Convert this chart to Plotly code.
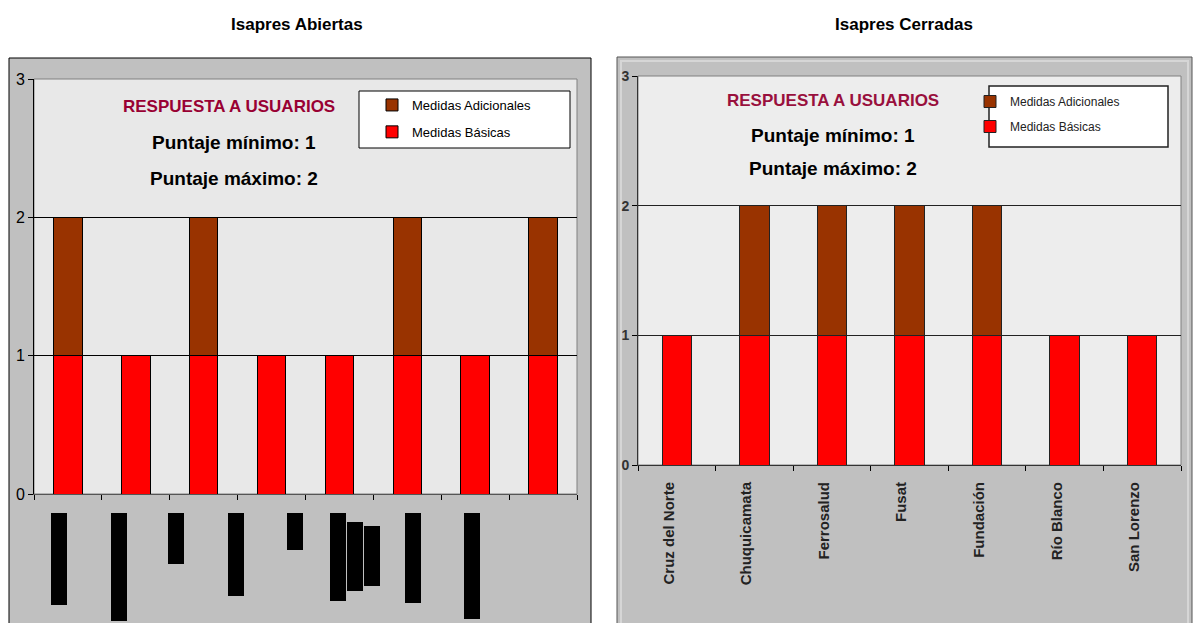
import plotly.graph_objects as go

# data
abiertas = ["A1", "A2", "A3", "A4", "A5", "A6", "A7", "A8"]  # names hidden in the source
abiertas_basicas = [1, 1, 1, 1, 1, 1, 1, 1]
abiertas_adicionales = [1, 0, 1, 0, 0, 1, 0, 1]

cerradas = ["Cruz del Norte", "Chuquicamata", "Ferrosalud", "Fusat",
            "Fundación", "Río Blanco", "San Lorenzo"]
cerradas_basicas = [1, 1, 1, 1, 1, 1, 1]
cerradas_adicionales = [0, 1, 1, 1, 1, 0, 0]

y_ticks = [0, 1, 2, 3]

W, H = 1194, 623
px = lambda x: x / W
py = lambda y: 1 - y / H

RED = "#ff0000"
BROWN = "#993300"
FONT = "Arial, Liberation Sans, sans-serif"

fig = go.Figure()

fig.add_trace(go.Bar(x=abiertas, y=abiertas_basicas, name="Medidas Básicas",
                     marker=dict(color=RED, line=dict(color="black", width=1)),
                     width=0.42, legend="legend", legendgroup="b1", legendrank=2))
fig.add_trace(go.Bar(x=abiertas, y=abiertas_adicionales, name="Medidas Adicionales",
                     marker=dict(color=BROWN, line=dict(color="black", width=1)),
                     width=0.42, legend="legend", legendgroup="a1", legendrank=1))
fig.add_trace(go.Bar(x=cerradas, y=cerradas_basicas, name="Medidas Básicas",
                     marker=dict(color=RED, line=dict(color="#222", width=1)),
                     width=0.38, xaxis="x2", yaxis="y2", legend="legend2",
                     legendgroup="b2", legendrank=2))
fig.add_trace(go.Bar(x=cerradas, y=cerradas_adicionales, name="Medidas Adicionales",
                     marker=dict(color=BROWN, line=dict(color="#222", width=1)),
                     width=0.38, xaxis="x2", yaxis="y2", legend="legend2",
                     legendgroup="a2", legendrank=1))

ax_common = dict(showline=True, linewidth=1, ticks="outside", automargin=False,
                 ticklen=5, tickcolor="black", zeroline=False, fixedrange=True)

fig.update_layout(
    width=W, height=H,
    autosize=False,
    margin=dict(l=0, r=0, t=0, b=0, pad=0, autoexpand=False),
    barmode="stack",
    paper_bgcolor="white",
    plot_bgcolor="rgba(0,0,0,0)",
    font=dict(family=FONT, color="black"),
    xaxis=dict(domain=[px(34), px(577)], tickson="boundaries", showticklabels=False,
               linecolor="#555", **ax_common),
    yaxis=dict(domain=[py(494), py(79)], range=[0, 3], tickvals=y_ticks,
               showgrid=True, gridcolor="black", gridwidth=1, linecolor="black",
               tickfont=dict(size=16), **ax_common),
    xaxis2=dict(domain=[px(638), px(1181)], anchor="y2", tickson="boundaries",
                tickangle=-90, tickfont=dict(size=15, color="#222", weight="bold"),
                linecolor="#333", ticklabelstandoff=10, ticklabelshift=-8, **ax_common),
    yaxis2=dict(domain=[py(465), py(76)], anchor="x2", range=[0, 3], tickvals=y_ticks,
                showgrid=True, gridcolor="#222", gridwidth=1, linecolor="#333",
                tickfont=dict(size=14, color="#333", weight="bold"), **ax_common),
    legend=dict(x=px(372), y=py(90), xanchor="left", yanchor="top",
                bgcolor="rgba(0,0,0,0)", traceorder="grouped",
                tracegroupgap=7, font=dict(size=13)),
    legend2=dict(x=px(970), y=py(87), xanchor="left", yanchor="top",
                 bgcolor="rgba(0,0,0,0)", traceorder="grouped",
                 tracegroupgap=6, font=dict(size=12, color="#222")),
    showlegend=True,
)

shapes = [
    # outer gray panels
    dict(type="rect", xref="paper", yref="paper", x0=px(9), x1=px(591), y0=py(58), y1=py(640),
         fillcolor="#c0c0c0", line=dict(color="black", width=1), layer="below"),
    dict(type="rect", xref="paper", yref="paper", x0=px(617), x1=px(1192), y0=py(57), y1=py(640),
         fillcolor="#c0c0c0", line=dict(color="#555", width=1), layer="below"),
    dict(type="rect", xref="paper", yref="paper", x0=px(621), x1=px(1188), y0=py(61), y1=py(640),
         fillcolor="rgba(0,0,0,0)", line=dict(color="#d6d6d6", width=2), layer="below"),
    # plot area backgrounds
    dict(type="rect", xref="paper", yref="paper", x0=px(34), x1=px(577), y0=py(494), y1=py(79),
         fillcolor="#e8e8e8", line=dict(color="#808080", width=1), layer="below"),
    dict(type="rect", xref="paper", yref="paper", x0=px(638), x1=px(1181), y0=py(465), y1=py(76),
         fillcolor="#ededed", line=dict(color="#808080", width=1), layer="below"),
    # legend boxes
    dict(type="rect", xref="paper", yref="paper", x0=px(359), x1=px(570), y0=py(148), y1=py(91),
         fillcolor="white", line=dict(color="black", width=1), layer="below"),
    dict(type="rect", xref="paper", yref="paper", x0=px(989), x1=px(1168), y0=py(147), y1=py(86),
         fillcolor="white", line=dict(color="#222", width=1.5), layer="below"),
]

# redacted category labels of the left chart (black blocks), in pixels: x0, top, bottom
hidden = [(51, 513, 605), (111, 513, 621), (168, 513, 564), (228, 513, 596),
          (287, 513, 550), (330, 513, 601), (347, 522, 591), (364, 526, 586),
          (405, 513, 603), (464, 513, 619)]
for x0, top, bottom in hidden:
    shapes.append(dict(type="rect", xref="paper", yref="paper", x0=px(x0), x1=px(x0 + 16),
                       y0=py(bottom), y1=py(top), fillcolor="black", line=dict(width=0)))
fig.update_layout(shapes=shapes)

annotations = [
    dict(text="<b>Isapres Abiertas</b>", x=px(297), y=py(24), font=dict(size=17)),
    dict(text="<b>Isapres Cerradas</b>", x=px(904), y=py(24), font=dict(size=17)),
    dict(text="<b>RESPUESTA A USUARIOS</b>", x=px(229), y=py(107),
         font=dict(size=17, color="#990033")),
    dict(text="<b>Puntaje mínimo: 1</b>", x=px(234), y=py(143), font=dict(size=19)),
    dict(text="<b>Puntaje máximo: 2</b>", x=px(234), y=py(178), font=dict(size=19)),
    dict(text="<b>RESPUESTA A USUARIOS</b>", x=px(833), y=py(100),
         font=dict(size=17, color="#99103d")),
    dict(text="<b>Puntaje mínimo: 1</b>", x=px(833), y=py(135), font=dict(size=19)),
    dict(text="<b>Puntaje máximo: 2</b>", x=px(833), y=py(168), font=dict(size=19)),
]
for a in annotations:
    a.update(xref="paper", yref="paper", showarrow=False, xanchor="center", yanchor="middle")
fig.update_layout(annotations=annotations)

fig.write_html(
    "out.html",
    config={"displayModeBar": False},
    post_script="document.body.style.margin='0';"
                "document.body.style.overflow='hidden';"
                "document.documentElement.style.overflow='hidden';",
)
